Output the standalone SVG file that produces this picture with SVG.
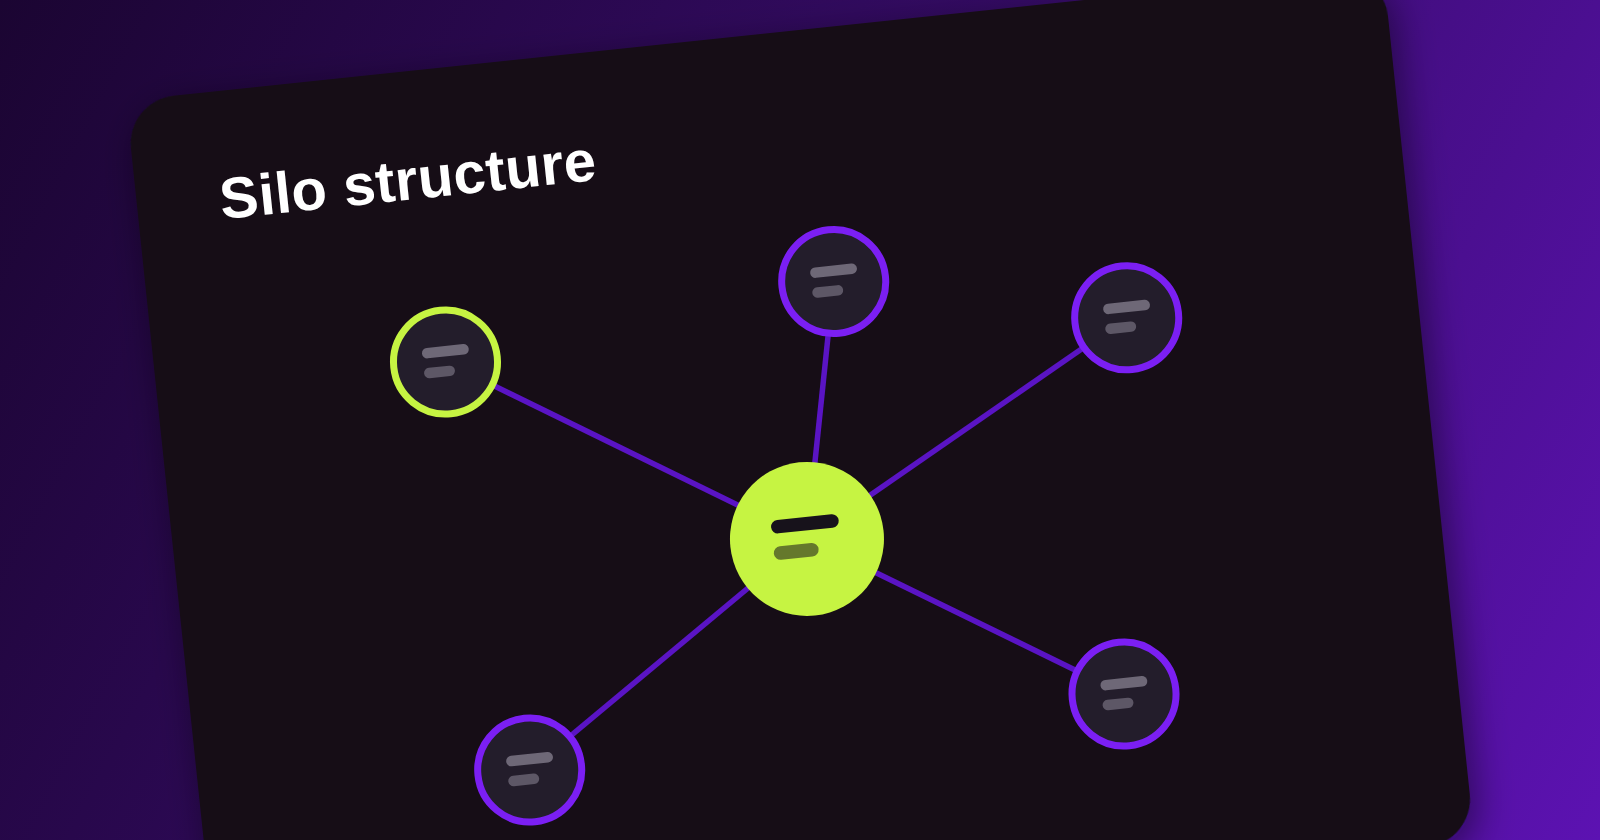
<svg xmlns="http://www.w3.org/2000/svg" width="1600" height="840" viewBox="0 0 1600 840">
  <defs>
    <linearGradient id="bg" x1="0" y1="0" x2="1600" y2="840" gradientUnits="userSpaceOnUse">
      <stop offset="0" stop-color="#1b0532"/>
      <stop offset="0.5" stop-color="#350b66"/>
      <stop offset="1" stop-color="#5c12b2"/>
    </linearGradient>
    <filter id="shadow" x="-10%" y="-10%" width="120%" height="120%">
      <feGaussianBlur in="SourceAlpha" stdDeviation="18"/>
      <feOffset dx="6" dy="10" result="b"/>
      <feFlood flood-color="#0a0214" flood-opacity="0.45"/>
      <feComposite in2="b" operator="in"/>
      <feMerge><feMergeNode/><feMergeNode in="SourceGraphic"/></feMerge>
    </filter>
    <style>
      .card { fill: #151118; }
      .title { font-family: "Liberation Sans", Arial, sans-serif; font-weight: bold; font-size: 58px; fill: #ffffff; letter-spacing: 0.3px; }
      .edge { stroke: #5a14c4; stroke-width: 5.5; fill: none; }
      .ring { fill: #231d2b; stroke: #7b1ff3; stroke-width: 7; }
      .ring.lime { stroke: #c6f442; }
      .hub { fill: #c6f442; }
      .bar1 { fill: #6e6877; }
      .bar2 { fill: #5d5766; }
      .hbar1 { fill: #17121b; }
      .hbar2 { fill: #65782c; }
    </style>
  </defs>
  <rect x="0" y="0" width="1600" height="840" fill="url(#bg)"/>
  <g id="card" transform="rotate(-6 800 420)">
    <rect class="card" x="163" y="32" width="1264" height="878" rx="48" filter="url(#shadow)"/>
    <text class="title" x="246" y="160">Silo structure</text>
    <g id="connectors">
      <line class="edge" x1="794.5" y1="539" x2="453.5" y2="325.3"/>
      <line class="edge" x1="794.5" y1="539" x2="848" y2="285.8"/>
      <line class="edge" x1="794.5" y1="539" x2="1135.6" y2="352.5"/>
      <line class="edge" x1="794.5" y1="539" x2="1093.6" y2="726.4"/>
      <line class="edge" x1="794.5" y1="539" x2="494.6" y2="739.8"/>
    </g>
    <g id="node-hub" transform="translate(794.5 539)">
      <circle class="hub" r="77"/>
      <rect class="hbar1" x="-34.5" y="-22" width="68" height="13.5" rx="6.75"/>
      <rect class="hbar2" x="-34.5" y="4.5" width="45" height="13.5" rx="6.75"/>
    </g>
    <g id="node-left" transform="translate(453.5 325.3)">
      <circle class="ring lime" r="52"/>
      <rect class="bar1" x="-22.5" y="-16" width="47" height="10.5" rx="5.25"/>
      <rect class="bar2" x="-22.5" y="4" width="31" height="10.5" rx="5.25"/>
    </g>
    <g id="node-top" transform="translate(848 285.8)">
      <circle class="ring" r="52"/>
      <rect class="bar1" x="-22.5" y="-16" width="47" height="10.5" rx="5.25"/>
      <rect class="bar2" x="-22.5" y="4" width="31" height="10.5" rx="5.25"/>
    </g>
    <g id="node-right-top" transform="translate(1135.6 352.5)">
      <circle class="ring" r="52"/>
      <rect class="bar1" x="-22.5" y="-16" width="47" height="10.5" rx="5.25"/>
      <rect class="bar2" x="-22.5" y="4" width="31" height="10.5" rx="5.25"/>
    </g>
    <g id="node-right-bottom" transform="translate(1093.6 726.4)">
      <circle class="ring" r="52"/>
      <rect class="bar1" x="-22.5" y="-16" width="47" height="10.5" rx="5.25"/>
      <rect class="bar2" x="-22.5" y="4" width="31" height="10.5" rx="5.25"/>
    </g>
    <g id="node-bottom-left" transform="translate(494.6 739.8)">
      <circle class="ring" r="52"/>
      <rect class="bar1" x="-22.5" y="-16" width="47" height="10.5" rx="5.25"/>
      <rect class="bar2" x="-22.5" y="4" width="31" height="10.5" rx="5.25"/>
    </g>
  </g>
</svg>
